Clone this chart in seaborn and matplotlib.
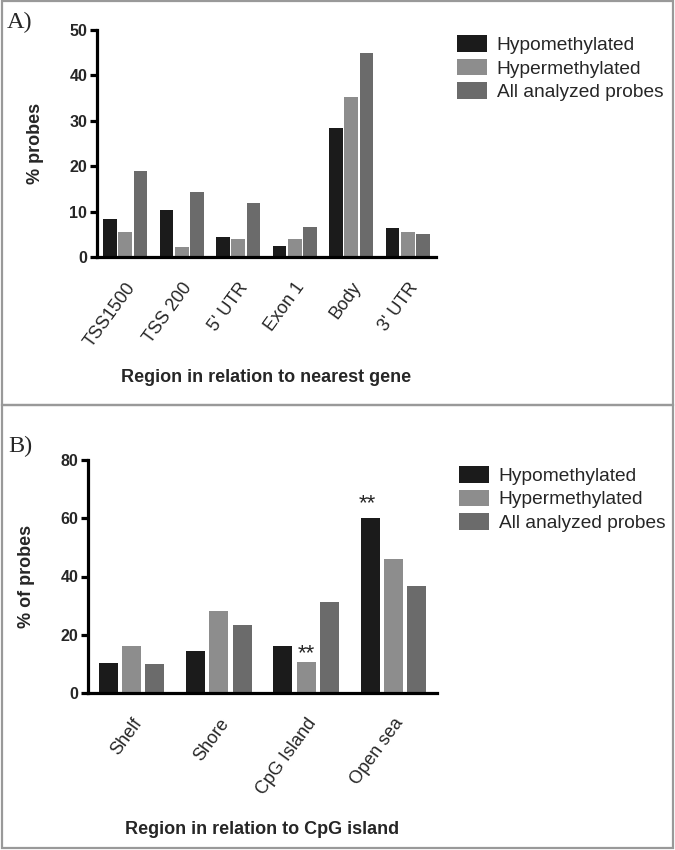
import matplotlib
matplotlib.use("Agg")
import matplotlib.pyplot as plt
import seaborn as sns
import pandas as pd
from matplotlib.patches import Rectangle

# ---------------- data ----------------
series_names = ["Hypomethylated", "Hypermethylated", "All analyzed probes"]

regions_a = ["TSS1500", "TSS 200", "5' UTR", "Exon 1", "Body", "3' UTR"]
hypo_a = [8.4, 10.4, 4.4, 2.4, 28.4, 6.3]
hyper_a = [5.5, 2.2, 3.9, 3.9, 35.2, 5.5]
all_a = [19.0, 14.3, 11.9, 6.5, 44.9, 5.1]
yticks_a = [0, 10, 20, 30, 40, 50]

regions_b = ["Shelf", "Shore", "CpG Island", "Open sea"]
hypo_b = [10.3, 14.4, 16.3, 60.2]
hyper_b = [16.0, 28.3, 10.8, 45.9]
all_b = [9.9, 23.4, 31.1, 36.9]
yticks_b = [0, 20, 40, 60, 80]

colors = ["#1b1b1b", "#8d8d8d", "#6b6b6b"]

# ---------------- style ----------------
sns.set_theme(style="white")
plt.rcParams["font.family"] = ["Liberation Sans", "DejaVu Sans"]

W, H = 675, 850
fig = plt.figure(figsize=(W / 100, H / 100), dpi=100)


def px_rect(left, top, right, bottom):
    return [left / W, 1 - bottom / H, (right - left) / W, (bottom - top) / H]


def long_df(regions, hypo, hyper, allp):
    rows = []
    for name, vals in zip(series_names, [hypo, hyper, allp]):
        for r, v in zip(regions, vals):
            rows.append({"Region": r, "Series": name, "Value": v})
    return pd.DataFrame(rows)


def draw_panel(ax, df, regions, yticks, gap, ylabel, xlabel, ylabel_x, xlabel_y,
               tickpad, legend_left, legend_top):
    sns.barplot(data=df, x="Region", y="Value", hue="Series", order=regions,
                hue_order=series_names, palette=colors, saturation=1,
                gap=gap, linewidth=0, ax=ax, errorbar=None)
    ax.set_ylim(yticks[0], yticks[-1])
    ax.set_yticks(yticks)
    ax.set_xlim(-0.5, len(regions) - 0.5)
    for s in ["top", "right"]:
        ax.spines[s].set_visible(False)
    for s in ["left", "bottom"]:
        ax.spines[s].set_linewidth(2.3)
        ax.spines[s].set_color("black")
    ax.tick_params(axis="y", direction="out", length=5, width=2.3, color="black",
                   left=True, labelsize=11.5, pad=2)
    ax.tick_params(axis="x", length=0, pad=tickpad, labelsize=13)
    for t in ax.get_yticklabels():
        t.set_fontweight("bold")
    for t in ax.get_xticklabels():
        t.set_rotation(54)
        t.set_ha("right")
        t.set_va("top")
        t.set_rotation_mode("anchor")
    ax.set_ylabel(ylabel, fontsize=13, fontweight="bold")
    ax.set_xlabel(xlabel, fontsize=13, fontweight="bold")
    ax.yaxis.set_label_coords(ylabel_x, 0.5)
    ax.xaxis.set_label_coords(0.5, xlabel_y)
    ax.xaxis.label.set_va("center")
    ax.yaxis.label.set_va("center")
    handles, labels = ax.get_legend_handles_labels()
    if ax.get_legend() is not None:
        ax.get_legend().remove()
    ax.legend(handles=handles, labels=labels, loc="upper left",
              bbox_to_anchor=(legend_left / W, 1 - legend_top / H),
              bbox_transform=fig.transFigure, frameon=False, fontsize=13.8,
              handlelength=1.58, handleheight=0.95, labelspacing=0.25,
              handletextpad=0.5, borderpad=0, borderaxespad=0)


# Panel A
axA = fig.add_axes(px_rect(97, 30, 436, 257))
dfA = long_df(regions_a, hypo_a, hyper_a, all_a)
draw_panel(axA, dfA, regions_a, yticks_a, 0.1, "% probes",
           "Region in relation to nearest gene",
           ylabel_x=(35 - 97) / 339, xlabel_y=(257 - 378) / 227,
           tickpad=16, legend_left=457, legend_top=35)

# Panel B
axB = fig.add_axes(px_rect(88, 460, 437, 693))
dfB = long_df(regions_b, hypo_b, hyper_b, all_b)
draw_panel(axB, dfB, regions_b, yticks_b, 0.18, "% of probes",
           "Region in relation to CpG island",
           ylabel_x=(27 - 88) / 349, xlabel_y=(693 - 830) / 233,
           tickpad=16, legend_left=459, legend_top=466)

# significance marks
n = len(series_names)
w = 0.8 / n
axB.annotate("**", xy=(regions_b.index("Open sea") - w, hypo_b[3]),
             xytext=(-2, 6), textcoords="offset points", ha="center",
             va="baseline", fontsize=16)
axB.annotate("**", xy=(regions_b.index("CpG Island"), hyper_b[2]),
             xytext=(0, 2), textcoords="offset points", ha="center",
             va="baseline", fontsize=16)

# panel labels
fig.text(7 / W, 1 - 28 / H, "A)", fontsize=17.5, family="Liberation Serif",
         ha="left", va="baseline")
fig.text(8 / W, 1 - 452 / H, "B)", fontsize=17.5, family="Liberation Serif",
         ha="left", va="baseline")

# panel frames
frame_kw = dict(transform=fig.transFigure, fill=False, edgecolor="#999999",
                linewidth=1.6)
fig.patches.append(Rectangle((2 / W, 1 - 405 / H), 671 / W, 404 / H, **frame_kw))
fig.patches.append(Rectangle((2 / W, 1 - 848 / H), 671 / W, 443 / H, **frame_kw))

fig.savefig("out.png", dpi=100)
